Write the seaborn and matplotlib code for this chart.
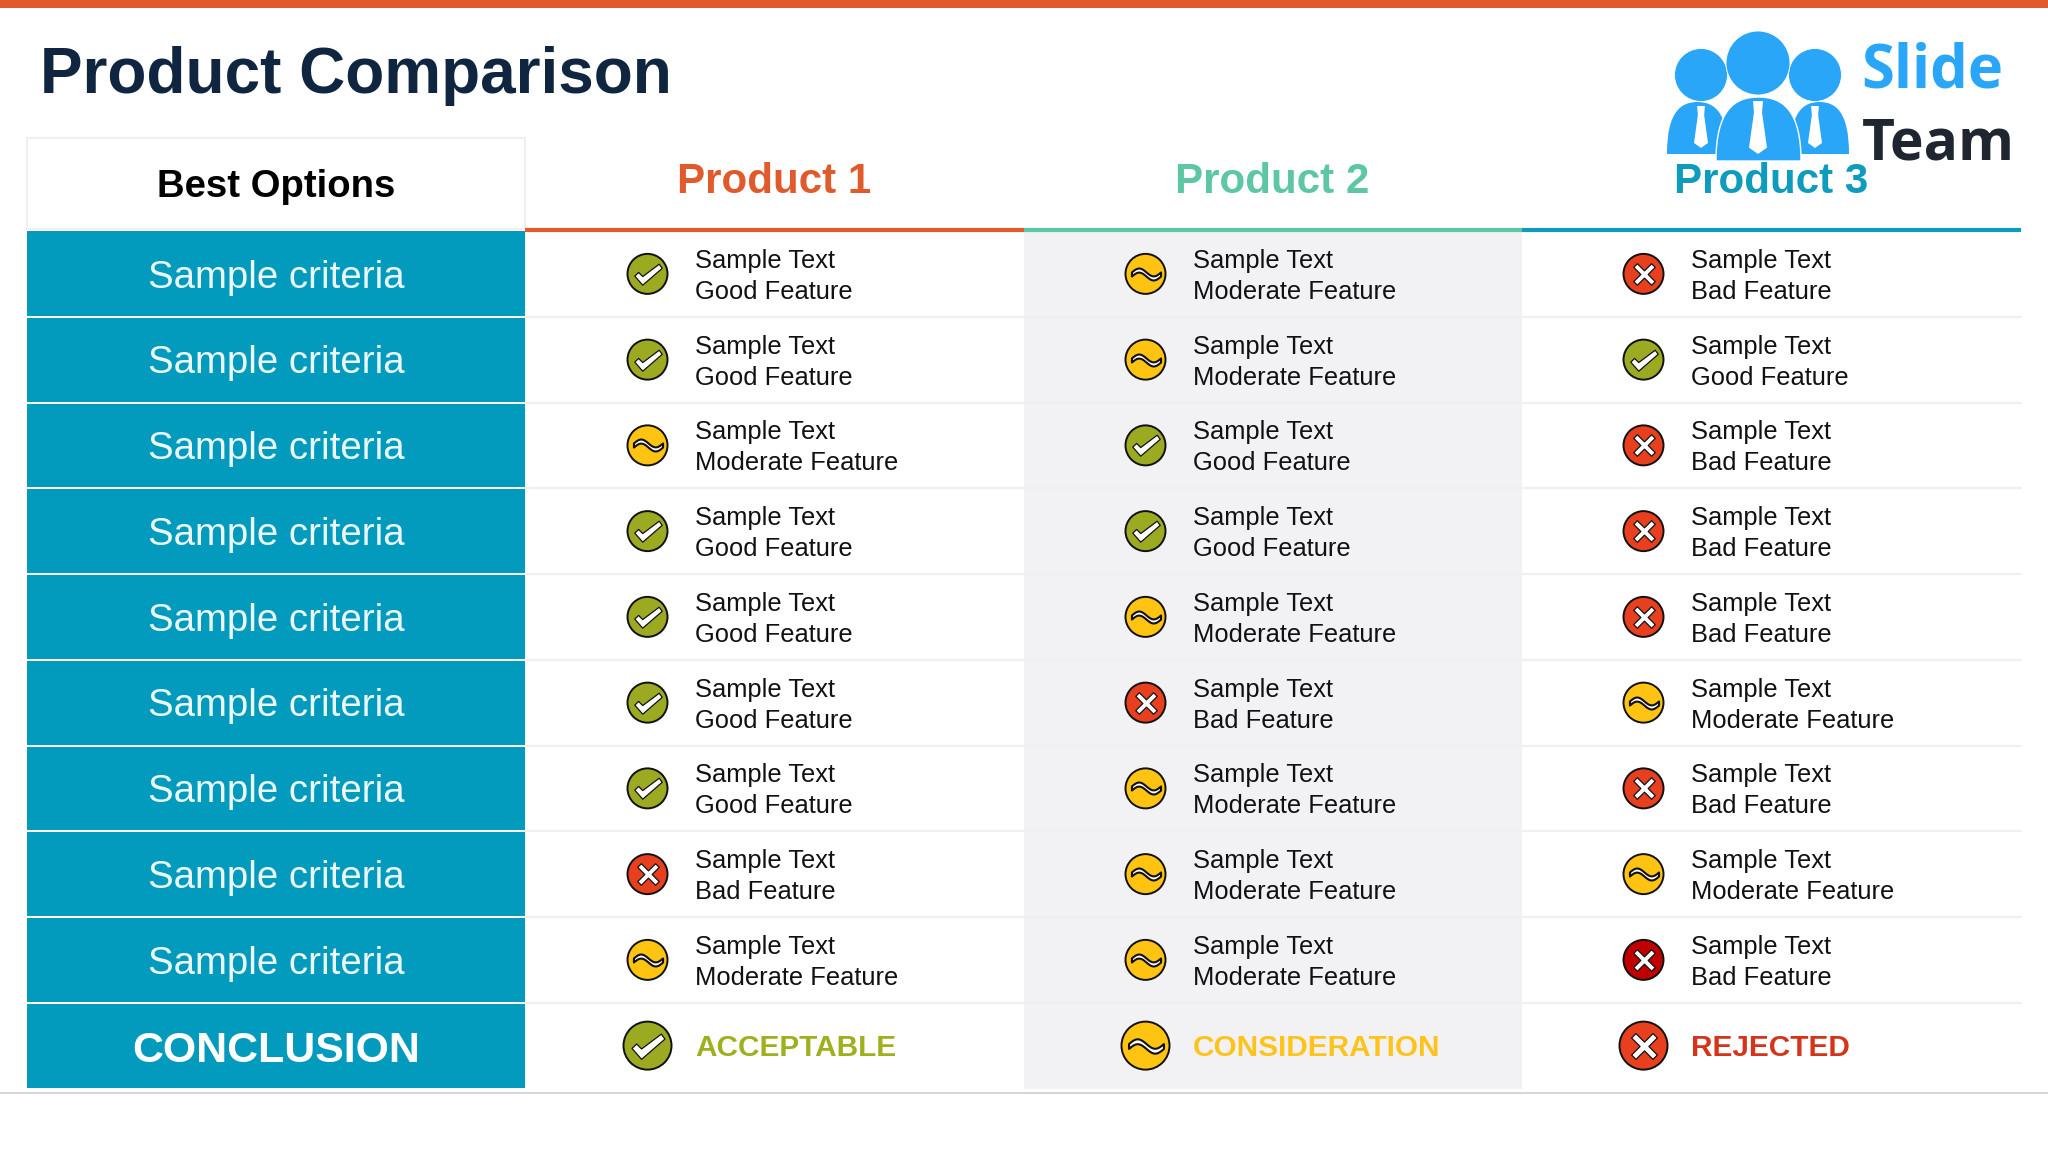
import matplotlib
matplotlib.use("Agg")
import matplotlib.pyplot as plt
import numpy as np
import pandas as pd
import seaborn as sns
from matplotlib.patches import Rectangle, Circle, Polygon, PathPatch
from matplotlib.path import Path

TITLE = "Product Comparison"
HEADER = "Best Options"
PRODUCTS = ["Product 1", "Product 2", "Product 3"]
CRITERIA = ["Sample criteria"] * 9
CONCLUSION_LABEL = "CONCLUSION"
P1_STATUS = ["Good", "Good", "Moderate", "Good", "Good", "Good", "Good", "Bad", "Moderate"]
P2_STATUS = ["Moderate", "Moderate", "Good", "Good", "Moderate", "Bad", "Moderate", "Moderate", "Moderate"]
P3_STATUS = ["Bad", "Good", "Bad", "Bad", "Bad", "Moderate", "Bad", "Moderate", "Severe"]
CONCLUSION_STATUS = ["Good", "Moderate", "Bad"]
CONCLUSION_TEXT = ["ACCEPTABLE", "CONSIDERATION", "REJECTED"]
FEATURE_TEXT = {"Good": "Good Feature", "Moderate": "Moderate Feature",
                "Bad": "Bad Feature", "Severe": "Bad Feature"}

ORANGE, GREEN, TEAL = "#E15A2B", "#5CC6A5", "#0F9BBD"
CELL = "#029ABD"
ICON = {"Good": "#9BAA20", "Moderate": "#FFC312", "Bad": "#E8401F", "Severe": "#C00000"}
CONC = ["#A0AF1E", "#FFC31A", "#D5341A"]
HEADS = [ORANGE, GREEN, TEAL]

# layout in pixels
COL_L, COL_X = 27, [525, 1024, 1522, 2021]
TOP, ROW_H = 231, 85.75
ICON_X = [647.5, 1145.5, 1643.5]
TEXT_X = [695, 1193, 1691]

sns.set_theme(style="white")
plt.rcParams["font.family"] = ["Liberation Sans", "DejaVu Sans"]
fig = plt.figure(figsize=(20.48, 11.52), dpi=100, facecolor="white")
ax = fig.add_axes([0, 0, 1, 1])
ax.set_xlim(0, 2048); ax.set_ylim(1152, 0); ax.axis("off")

ax.add_patch(Rectangle((0, 0), 2048, 8, fc=ORANGE, lw=0))
ax.text(40, 93, TITLE, fontsize=46, fontweight="bold", color="#0F2540", va="baseline")

rows = len(CRITERIA) + 1
bottom = TOP + rows * ROW_H
ax.add_patch(Rectangle((COL_X[1], TOP), COL_X[2] - COL_X[1], bottom - TOP, fc="#F2F2F5", lw=0))
ax.plot([0, 2048], [1093, 1093], color="#D6D6D6", lw=1.5)

# header
ax.add_patch(Rectangle((COL_L, 138), COL_X[0] - COL_L, 91, fc="white", ec="#F0F0F2", lw=1.5))
ax.text((COL_L + COL_X[0]) / 2, 197, HEADER, fontsize=27.5, fontweight="bold", color="black",
        ha="center", va="baseline")

# row separators and left cells
for i in range(rows):
    y0 = TOP + i * ROW_H
    if i:
        ax.plot([COL_X[0], COL_X[3]], [y0, y0], color="#F0F0F3", lw=1.6, zorder=1)
    ax.add_patch(Rectangle((COL_L, y0 + (0 if i == 0 else 1)), COL_X[0] - COL_L, ROW_H - (1 if i == 0 else 2), fc=CELL, lw=0, zorder=2))
    cy = y0 + ROW_H / 2
    if i < len(CRITERIA):
        ax.text(276, cy + 13.7, CRITERIA[i], fontsize=27.6, color="#EAF8FB", ha="center", va="baseline", zorder=3)
    else:
        ax.text(276, cy + 16, CONCLUSION_LABEL, fontsize=30.9, fontweight="bold", color="white",
                ha="center", va="baseline", zorder=3)

# product headers
for j, name in enumerate(PRODUCTS):
    ax.plot(COL_X[j:j + 2], [229.5, 229.5], color=HEADS[j], lw=3, solid_capstyle="butt", zorder=3)
    ax.text((COL_X[j] + COL_X[j + 1]) / 2 - 0.5, 193, name, fontsize=30.3, fontweight="bold", color=HEADS[j],
            ha="center", va="baseline", zorder=6)

# glyph markers
wave_t = np.linspace(-1, 1, 40)
wave_mid = 0.27 * np.sin(wave_t * np.pi + np.pi)
upper = np.column_stack([wave_t, wave_mid + 0.14])
lower = np.column_stack([wave_t[::-1], wave_mid[::-1] - 0.14])
WAVE = Path(np.vstack([upper, lower, upper[:1]]), closed=True)
CHECK = Path(np.array([[-1, -0.12], [-0.72, 0.15], [-0.42, -0.15], [0.78, 0.75], [1, 0.45],
                       [-0.42, -0.78], [-1, -0.12]]), closed=True)
a, b = 1.0, 0.34
CROSS = Path(np.array([[-a, -a + b], [-b, 0], [-a, a - b], [-a + b, a], [0, b], [a - b, a], [a, a - b],
                       [b, 0], [a, -a + b], [a - b, -a], [0, -b], [-a + b, -a], [-a, -a + b]]), closed=True)
GLYPH = {"Good": CHECK, "Moderate": WAVE, "Bad": CROSS, "Severe": CROSS}
GLYPH_S = {"Good": 390, "Moderate": 440, "Bad": 240, "Severe": 240}
GLYPH_LW = {"Good": 0.9, "Moderate": 1.5, "Bad": 0.9, "Severe": 0.9}

cols = [P1_STATUS, P2_STATUS, P3_STATUS]
recs = []
for j, col in enumerate(cols):
    for i, st in enumerate(col):
        yc = TOP + (i + 0.5) * ROW_H
        recs.append(dict(x=ICON_X[j], y=yc, status=st, final=False))
        ax.text(TEXT_X[j], yc - 5.9, "Sample Text", fontsize=18.35, color="#111111", va="baseline", zorder=5)
        ax.text(TEXT_X[j], yc + 25, FEATURE_TEXT[st], fontsize=18.35, color="#111111", va="baseline", zorder=5)
    yc = TOP + (rows - 0.5) * ROW_H
    recs.append(dict(x=ICON_X[j], y=yc, status=CONCLUSION_STATUS[j], final=True))
    ax.text(TEXT_X[j], yc + 10.3, CONCLUSION_TEXT[j], fontsize=21.4, fontweight="bold", color=CONC[j],
            va="baseline", zorder=5)
df = pd.DataFrame(recs)

for final, base, scale in [(False, 830, 1.0), (True, 1195, 1.44)]:
    sub = df[df.final == final]
    sns.scatterplot(data=sub, x="x", y="y", hue="status", palette=ICON, s=base, edgecolor="#111111",
                    linewidth=1.4, legend=False, ax=ax, zorder=6)
    for st, g in sub.groupby("status"):
        sns.scatterplot(data=g, x="x", y="y", marker=GLYPH[st], color="white", s=GLYPH_S[st] * scale,
                        edgecolor="#111111", linewidth=GLYPH_LW[st], legend=False, ax=ax, zorder=7)
ax.set_xlim(0, 2048); ax.set_ylim(1152, 0)
ax.set_xlabel(""); ax.set_ylabel("")

# logo
BLUE = "#2AA6F8"
for cx, cyy, r in [(1701, 75, 26.5), (1815, 75, 26.5), (1758, 63, 32)]:
    ax.add_patch(Circle((cx, cyy), r, fc=BLUE, ec="white", lw=0.6, zorder=4))

def body(x0, x1, y0, y1):
    h = y1 - y0
    w = x1 - x0
    verts = [(x0, y1), (x0, y0 + h * 0.2), (x0 + w * 0.22, y0), (x0 + w / 2, y0),
             (x0 + w * 0.78, y0), (x1, y0 + h * 0.2), (x1, y1), (x0, y1)]
    codes = [Path.MOVETO, Path.CURVE4, Path.CURVE4, Path.CURVE4, Path.CURVE4, Path.CURVE4, Path.CURVE4, Path.CLOSEPOLY]
    return Path(verts, codes)

def tie(cx, top, bottom, w):
    ax.add_patch(Polygon([(cx - w * 0.55, top), (cx + w * 0.55, top), (cx + w * 0.45, top + (bottom - top) * 0.22),
                          (cx + w, bottom - (bottom - top) * 0.12), (cx, bottom), (cx - w, bottom - (bottom - top) * 0.12),
                          (cx - w * 0.45, top + (bottom - top) * 0.22)], fc="white", lw=0, zorder=5))

ax.add_patch(PathPatch(body(1667, 1728, 102, 154), fc=BLUE, lw=0, zorder=4))
ax.add_patch(PathPatch(body(1790, 1849, 102, 154), fc=BLUE, lw=0, zorder=4))
ax.add_patch(PathPatch(body(1716, 1801, 97, 161), fc=BLUE, ec="white", lw=1, zorder=4.5))
tie(1701, 106, 148, 7)
tie(1815, 106, 148, 7)
tie(1758, 101, 154, 9)
ax.text(1861, 88, "Slide", fontsize=43, fontweight="bold", family="Open Sans", color=BLUE, va="baseline", zorder=4)
ax.text(1862, 160, "Team", fontsize=41, fontweight="bold", family="Open Sans", color="#1F2630", va="baseline", zorder=4)

fig.savefig("out.png", dpi=100, facecolor="white")
